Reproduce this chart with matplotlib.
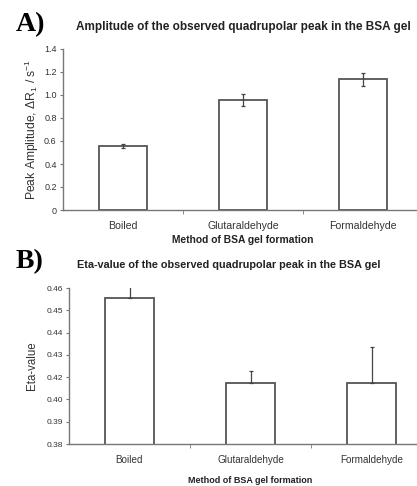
import numpy as np
import matplotlib
matplotlib.use("Agg")
import matplotlib.pyplot as plt

plt.rcParams['font.family'] = ['Liberation Sans', 'DejaVu Sans']
plt.rcParams['mathtext.fontset'] = 'custom'
plt.rcParams['mathtext.rm'] = 'Liberation Sans'
plt.rcParams['mathtext.it'] = 'Liberation Sans:italic'

# datos
metodos = ["Boiled", "Glutaraldehyde", "Formaldehyde"]
amplitud = [0.559, 0.955, 1.135]
amplitud_err = [0.019, 0.051, 0.053]
eta = [0.4551, 0.4111, 0.4111]
eta_err = [0.0068, 0.0065, 0.0184]
eta_ticks = ["0.38", "0.39", "0.40", "0.42", "0.43", "0.44", "0.45", "0.46"]

GRIS = "#555555"
TEXTO = "#333333"


def estilo_eje(ax, fs_ticks, fs_cat):
    ax.spines['top'].set_visible(False)
    ax.spines['right'].set_visible(False)
    for s in ('left', 'bottom'):
        ax.spines[s].set_color("#777777")
        ax.spines[s].set_linewidth(1.0)
    ax.set_xlim(-0.5, 2.5)
    ax.set_xticks(range(len(metodos)))
    ax.set_xticklabels(metodos, fontsize=fs_cat, color=TEXTO)
    ax.tick_params(axis='x', which='major', length=0, pad=8)
    ax.set_xticks([0.5, 1.5], minor=True)
    ax.tick_params(axis='x', which='minor', length=3, color="#777777")
    ax.tick_params(axis='y', length=2.5, color="#777777", labelsize=fs_ticks,
                   labelcolor=TEXTO, pad=2)


fig = plt.figure(figsize=(4.17, 4.86), dpi=100)

# Panel A
ax1 = fig.add_axes([63 / 417, 1 - 210 / 486, 360 / 417, 161 / 486])
x = np.arange(len(metodos))
ax1.bar(x, amplitud, width=0.4, color="white", edgecolor=GRIS, linewidth=1.3,
        yerr=amplitud_err, error_kw=dict(ecolor="#444444", elinewidth=0.9,
                                         capsize=1.5, capthick=0.9))
ax1.set_ylim(0, 1.4)
ax1.set_yticks([0, 0.2, 0.4, 0.6, 0.8, 1.0, 1.2, 1.4])
ax1.set_yticklabels(["0", "0.2", "0.4", "0.6", "0.8", "1.0", "1.2", "1.4"])
estilo_eje(ax1, 6.5, 7.6)
ax1.set_ylabel(r"Peak Amplitude, $\Delta$R$_1$ / s$^{-1}$", fontsize=8.7,
               color=TEXTO, labelpad=2)
ax1.set_xlabel("Method of BSA gel formation", fontsize=7.4, fontweight='bold',
               color="#222222", labelpad=3)
fig.text(243 / 417, 1 - 27 / 486,
         "Amplitude of the observed quadrupolar peak in the BSA gel",
         ha='center', va='center', fontsize=8.5, fontweight='bold', color="#222222")
fig.text(16 / 417, 1 - 25 / 486, "A)", ha='left', va='center', fontsize=20,
         fontweight='bold', family='Liberation Serif')

# Panel B
ax2 = fig.add_axes([69 / 417, 1 - 444 / 486, 363 / 417, 156 / 486])
ax2.bar(x, eta, width=0.4, color="white", edgecolor=GRIS, linewidth=1.3)
ax2.errorbar(x, eta, yerr=[np.zeros(len(eta)), eta_err], fmt='none',
             ecolor="#444444", elinewidth=0.9, capsize=1.2, capthick=0.9)
ax2.set_ylim(0.38, 0.46)
ax2.set_yticks(np.linspace(0.38, 0.46, len(eta_ticks)))
ax2.set_yticklabels(eta_ticks)
estilo_eje(ax2, 6.0, 7.1)
ax2.set_ylabel("Eta-value", fontsize=8.3, color=TEXTO, labelpad=6)
ax2.set_xlabel("Method of BSA gel formation", fontsize=6.5, fontweight='bold',
               color="#222222", labelpad=8)
fig.text(229 / 417, 1 - 265 / 486,
         "Eta-value of the observed quadrupolar peak in the BSA gel",
         ha='center', va='center', fontsize=7.8, fontweight='bold', color="#222222")
fig.text(16 / 417, 1 - 262 / 486, "B)", ha='left', va='center', fontsize=20,
         fontweight='bold', family='Liberation Serif')

fig.savefig("out.png", dpi=100)
